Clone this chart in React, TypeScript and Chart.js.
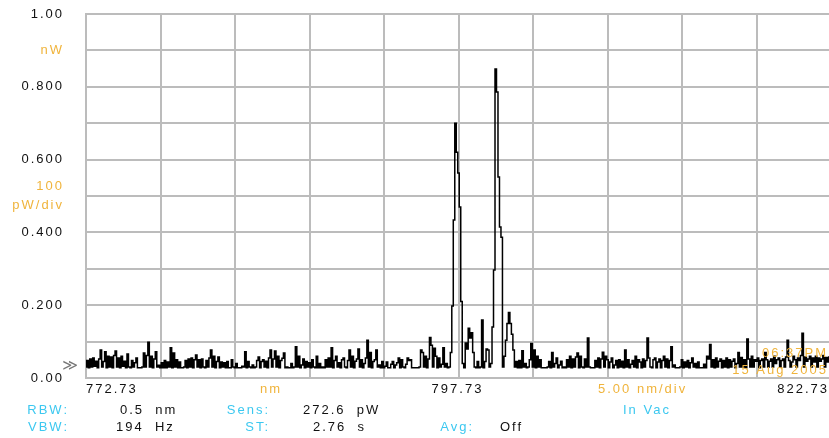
import React, { useEffect, useRef } from 'react';
import { Chart, registerables } from 'chart.js';

Chart.register(...registerables);

// Wavelength sampling of the trace (nm)
const WL_START = 772.73;
const WL_STEP = 0.1;
// Vertical grid (5.00 nm/div)
const X_GRID = [772.73, 777.73, 782.73, 787.73, 792.73, 797.73, 802.73, 807.73, 812.73, 817.73, 822.73];
const X_LABELS = ['772.73', '797.73', '822.73'];
const X_LABEL_VALUES = [772.73, 797.73, 822.73];
// Y tick labels, one per 0.1 nW division (0.0 .. 1.0)
const Y_LABELS: (string | string[])[] = ['0.00', '', '0.200', '', '0.400', ['100', 'pW/div'], '0.600', '', '0.800', 'nW', '1.00'];
const Y_ORANGE = [5, 9];

// Measured power in pW, one value per 0.1 nm from 772.73 nm
const POWER_PW = [
  30, 48, 28, 52, 30, 55, 32, 46, 28, 52,
  77, 30, 45, 72, 28, 60, 30, 58, 28, 62,
  74, 30, 55, 28, 60, 32, 46, 28, 66, 30,
  28, 48, 30, 42, 55, 28, 28, 28, 30, 69,
  30, 62, 98, 30, 60, 28, 52, 72, 30, 35,
  28, 42, 28, 48, 28, 44, 30, 83, 28, 69,
  30, 50, 28, 44, 28, 28, 30, 48, 28, 52,
  30, 55, 28, 50, 63, 30, 50, 28, 52, 30,
  28, 48, 30, 55, 77, 30, 60, 28, 45, 58,
  28, 44, 30, 42, 28, 45, 28, 28, 50, 30,
  28, 40, 28, 28, 28, 32, 30, 72, 28, 45,
  30, 28, 36, 28, 30, 48, 58, 28, 45, 50,
  30, 46, 28, 55, 77, 30, 52, 74, 30, 60,
  28, 48, 54, 69, 28, 30, 28, 28, 40, 28,
  30, 86, 30, 60, 28, 36, 52, 28, 45, 30,
  42, 28, 50, 30, 28, 60, 28, 40, 28, 30,
  28, 50, 30, 55, 30, 83, 28, 48, 60, 30,
  42, 28, 50, 55, 30, 28, 48, 77, 30, 60,
  28, 46, 52, 80, 30, 50, 28, 40, 55, 104,
  30, 70, 28, 45, 50, 77, 30, 36, 28, 45,
  28, 32, 44, 28, 28, 38, 45, 28, 36, 42,
  55, 28, 50, 30, 28, 38, 55, 48, 50, 28,
  28, 28, 28, 28, 30, 77, 70, 30, 60, 28,
  52, 111, 90, 30, 82, 60, 28, 55, 30, 38,
  83, 30, 40, 28, 30, 70, 198, 434, 700, 620,
  563, 470, 210, 40, 28, 96, 80, 137, 110, 124,
  70, 30, 28, 45, 28, 30, 159, 28, 45, 80,
  77, 30, 40, 140, 297, 849, 786, 552, 415, 387,
  30, 60, 104, 150, 180, 150, 120, 77, 30, 45,
  28, 48, 28, 75, 30, 40, 28, 30, 50, 95,
  30, 77, 28, 60, 30, 50, 28, 28, 28, 28,
  30, 45, 28, 70, 30, 40, 55, 28, 36, 46,
  28, 30, 28, 50, 30, 60, 28, 52, 30, 58,
  69, 28, 60, 30, 28, 52, 30, 110, 30, 28,
  28, 28, 48, 30, 55, 28, 52, 71, 30, 60,
  50, 28, 44, 55, 28, 36, 48, 28, 50, 30,
  46, 28, 77, 30, 50, 28, 38, 48, 30, 60,
  28, 50, 44, 28, 52, 30, 48, 110, 55, 30,
  28, 50, 55, 28, 44, 52, 28, 48, 60, 30,
  52, 28, 48, 86, 30, 36, 28, 28, 28, 30,
  50, 28, 44, 30, 48, 28, 42, 55, 30, 40,
  28, 44, 28, 28, 28, 38, 28, 60, 52, 92,
  30, 50, 28, 55, 30, 46, 52, 28, 48, 30,
  55, 28, 50, 30, 46, 52, 28, 40, 70, 30,
  56, 30, 50, 28, 107, 52, 30, 60, 30, 50,
  46, 55, 28, 48, 52, 30, 70, 50, 30, 46,
  52, 30, 60, 40, 50, 55, 30, 48, 52, 30,
  58, 104, 48, 30, 44, 60, 50, 30, 55, 48,
  62, 123, 30, 58, 46, 52, 60, 30, 55, 44,
  60, 30, 55, 46, 52, 62, 30, 56, 44, 58, 50,
];

const ORANGE = '#f0b43c';
const CYAN = '#3cc8f0';
const GRID = '#bcbcbc';
const FONT = '13px "Liberation Sans", Arial, sans-serif';

const annotPlugin = {
  id: 'osaText',
  beforeDraw(chart: any) {
    chart.ctx.letterSpacing = '2px';
  },
  afterDraw(chart: any) {
    const ctx = chart.ctx;
    const xs = chart.scales.x;
    const ys = chart.scales.y;
    const { left, right } = chart.chartArea;
    // horizontal divisions, placed with the y scale, drawn behind the trace
    ctx.save();
    ctx.globalCompositeOperation = 'destination-over';
    ctx.fillStyle = GRID;
    for (let k = 0; k <= 10; k++) {
      const y = Math.round(ys.getPixelForValue(k / 10));
      ctx.fillRect(left - 1, y - 1, right - left + 2, 2);
    }
    ctx.restore();

    ctx.save();
    ctx.letterSpacing = '2px';
    ctx.font = FONT;
    ctx.textBaseline = 'middle';
    const put = (t: string, x: number, y: number, c: string, a: CanvasTextAlign = 'left') => {
      ctx.fillStyle = c;
      ctx.textAlign = a;
      ctx.fillText(t, x, y);
    };
    // X scale labels
    put(X_LABELS[0], xs.getPixelForValue(X_LABEL_VALUES[0]), 389, '#111', 'left');
    put(X_LABELS[1], xs.getPixelForValue(X_LABEL_VALUES[1]) - 1, 389, '#111', 'center');
    put(X_LABELS[2], xs.getPixelForValue(X_LABEL_VALUES[2]) - 2, 389, '#111', 'right');
    put('nm', 271, 389, ORANGE, 'center');
    put('5.00 nm/div', 598, 389, ORANGE, 'left');
    // settings rows
    put('RBW:', 69, 410, CYAN, 'right');
    put('0.5  nm', 120, 410, '#111');
    put('Sens:', 270, 410, CYAN, 'right');
    put('272.6  pW', 303, 410, '#111');
    put('In Vac', 623, 410, CYAN);
    put('VBW:', 69, 427, CYAN, 'right');
    put('194  Hz', 116, 427, '#111');
    put('ST:', 270, 427, CYAN, 'right');
    put('2.76  s', 313, 427, '#111');
    put('Avg:', 474, 427, CYAN, 'right');
    put('Off', 500, 427, '#111');
    // reference level marker
    ctx.letterSpacing = '0px';
    ctx.font = '15px "DejaVu Sans", sans-serif';
    put('≫', 70, 366, '#777', 'center');
    // timestamp
    ctx.letterSpacing = '2px';
    ctx.font = FONT;
    put('06:37PM', 828, 353, ORANGE, 'right');
    put('15 Aug 2005', 828, 370, ORANGE, 'right');
    ctx.restore();
    ctx.letterSpacing = '0px';
  },
};

export default function App() {
  const ref = useRef<HTMLCanvasElement | null>(null);
  useEffect(() => {
    document.body.style.overflow = 'hidden';
    const canvas = ref.current!;
    const points = POWER_PW.map((p, i) => ({ x: +(WL_START + i * WL_STEP).toFixed(2), y: p / 1000 }));
    const chart = new Chart(canvas, {
      type: 'line',
      data: {
        datasets: [
          {
            data: points,
            borderColor: '#000',
            borderWidth: 1.5,
            pointRadius: 0,
            stepped: 'middle',
            fill: false,
          } as any,
        ],
      },
      options: {
        responsive: false,
        animation: false,
        events: [],
        layout: { padding: { top: 14, left: 0, right: 2, bottom: 0 } },
        plugins: { legend: { display: false }, tooltip: { enabled: false } },
        scales: {
          x: {
            type: 'linear',
            min: X_GRID[0],
            max: X_GRID[X_GRID.length - 1],
            afterBuildTicks: (s: any) => {
              s.ticks = X_GRID.map((v) => ({ value: v }));
            },
            afterFit: (s: any) => {
              s.height = 60;
            },
            ticks: { display: false },
            grid: { color: GRID, lineWidth: 2, drawTicks: false },
            border: { color: GRID, width: 2 },
          },
          y: {
            min: 0,
            max: 1,
            afterFit: (s: any) => {
              s.width = 86;
              s.paddingTop = 0;
              s.paddingBottom = 0;
            },
            ticks: {
              stepSize: 0.1,
              autoSkip: false,
              padding: 22,
              font: { family: '"Liberation Sans", Arial, sans-serif', size: 13, lineHeight: 1.4 },
              color: (c: any) => (c.tick && Y_ORANGE.includes(Math.round(c.tick.value * 10)) ? ORANGE : '#111'),
              callback: (v: any) => Y_LABELS[Math.round(Number(v) * 10)] as any,
            },
            grid: { color: GRID, lineWidth: 2, drawTicks: false },
            border: { color: GRID, width: 2 },
          },
        },
      },
      plugins: [annotPlugin],
    });
    return () => chart.destroy();
  }, []);
  return (
    <div style={{ position: 'fixed', left: 0, top: 0, width: 829, height: 438, overflow: 'hidden', background: '#fff' }}>
      <canvas ref={ref} width={833} height={438} style={{ display: 'block', width: 833, height: 438 }} />
    </div>
  );
}
